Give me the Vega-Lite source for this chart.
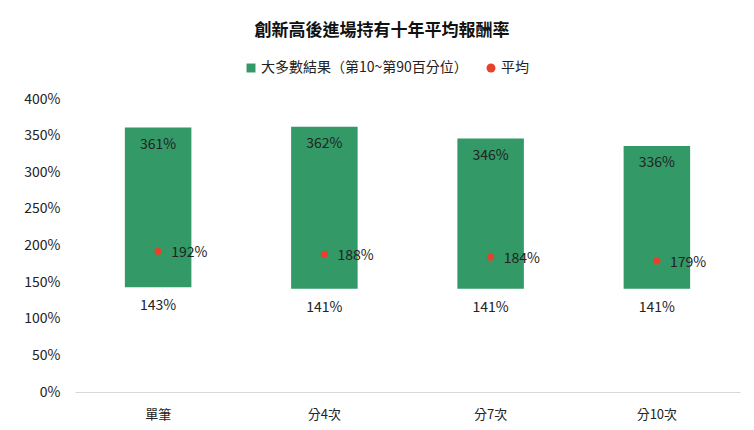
{
  "$schema": "https://vega.github.io/schema/vega-lite/v6.json",
  "autosize": {"type": "none"},
  "width": 665,
  "height": 293,
  "padding": {"left": 75, "top": 99, "right": 14, "bottom": 38},
  "background": "white",
  "config": {
    "font": "Noto Sans CJK TC",
    "view": {"stroke": null},
    "axisY": {
      "format": ".0%",
      "values": [0, 0.5, 1, 1.5, 2, 2.5, 3, 3.5, 4],
      "labelOverlap": false,
      "labelBound": false,
      "domain": false,
      "ticks": false,
      "grid": false,
      "labelFontSize": 14,
      "labelColor": "#222222",
      "labelPadding": 15,
      "title": null
    }
  },
  "title": {
    "text": "創新高後進場持有十年平均報酬率",
    "fontSize": 17,
    "fontWeight": "bold",
    "color": "#111111",
    "anchor": "middle",
    "frame": "bounds",
    "offset": 21
  },
  "data": {
    "values": [
      {"scenario": "單筆", "low": 1.43, "high": 3.61, "mean": 1.92},
      {"scenario": "分4次", "low": 1.41, "high": 3.62, "mean": 1.88},
      {"scenario": "分7次", "low": 1.41, "high": 3.46, "mean": 1.84},
      {"scenario": "分10次", "low": 1.41, "high": 3.36, "mean": 1.79}
    ]
  },
  "encoding": {
    "x": {
      "field": "scenario",
      "type": "nominal",
      "sort": null,
      "title": null,
      "scale": {"paddingInner": 0.6, "paddingOuter": 0.3},
      "axis": {
        "labelAngle": 0,
        "labelFontSize": 13,
        "labelColor": "#222222",
        "labelPadding": 16,
        "ticks": false,
        "domainColor": "#d9d9d9",
        "grid": false
      }
    }
  },
  "layer": [
    {
      "mark": {"type": "bar", "color": "#339966"},
      "encoding": {
        "y": {
          "field": "low",
          "type": "quantitative",
          "title": null,
          "scale": {"domain": [0, 4]},
          "axis": {"values": [0, 0.5, 1, 1.5, 2, 2.5, 3, 3.5, 4], "labelOverlap": false}
        },
        "y2": {"field": "high"},
        "color": {
          "datum": "大多數結果（第10~第90百分位）",
          "type": "nominal",
          "scale": {
            "domain": ["大多數結果（第10~第90百分位）", "平均"],
            "range": ["#339966", "#e8402a"]
          },
          "legend": {
            "title": null,
            "orient": "none",
            "direction": "horizontal",
            "legendX": 169,
            "legendY": -38,
            "labelFontSize": 14,
            "labelColor": "#222222",
            "labelLimit": 400,
            "symbolSize": 80,
            "columnPadding": 16,
            "labelOffset": 3,
            "encode": {
              "symbols": {
                "update": {
                  "shape": {"signal": "datum.value === '平均' ? 'circle' : 'square'"},
                  "strokeWidth": {"value": 0}
                }
              }
            }
          }
        }
      }
    },
    {
      "mark": {"type": "text", "baseline": "top", "dy": 10, "fontSize": 14, "color": "#222222"},
      "encoding": {
        "y": {"field": "high", "type": "quantitative", "axis": {"values": [0, 0.5, 1, 1.5, 2, 2.5, 3, 3.5, 4], "labelOverlap": false}},
        "text": {"field": "high", "type": "quantitative", "format": ".0%"}
      }
    },
    {
      "mark": {"type": "text", "baseline": "top", "dy": 12, "fontSize": 14, "color": "#222222"},
      "encoding": {
        "y": {"field": "low", "type": "quantitative", "axis": {"values": [0, 0.5, 1, 1.5, 2, 2.5, 3, 3.5, 4], "labelOverlap": false}},
        "text": {"field": "low", "type": "quantitative", "format": ".0%"}
      }
    },
    {
      "mark": {"type": "point", "filled": true, "shape": "circle", "size": 50, "opacity": 1},
      "encoding": {
        "y": {"field": "mean", "type": "quantitative", "axis": {"values": [0, 0.5, 1, 1.5, 2, 2.5, 3, 3.5, 4], "labelOverlap": false}},
        "color": {"datum": "平均", "type": "nominal"}
      }
    },
    {
      "mark": {"type": "text", "align": "left", "baseline": "middle", "dx": 13, "dy": 2, "fontSize": 14, "color": "#222222"},
      "encoding": {
        "y": {"field": "mean", "type": "quantitative", "axis": {"values": [0, 0.5, 1, 1.5, 2, 2.5, 3, 3.5, 4], "labelOverlap": false}},
        "text": {"field": "mean", "type": "quantitative", "format": ".0%"}
      }
    }
  ]
}
